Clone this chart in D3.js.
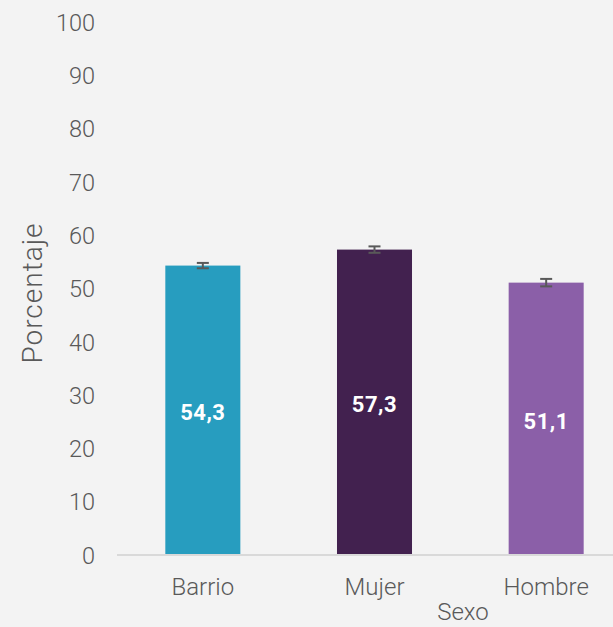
<!DOCTYPE html>
<html><head><meta charset="utf-8">
<script src="https://cdn.jsdelivr.net/npm/d3@7"></script>
<style>html,body{margin:0;padding:0;background:#f3f3f3;}</style>
</head><body>
<script>
const categories = ["Barrio", "Mujer", "Hombre"];
const values = [54.3, 57.3, 51.1];
const errors = [0.5, 0.6, 0.7];
const labels = ["54,3", "57,3", "51,1"];
const colors = ["#279dbf", "#42214f", "#8b5fa8"];
const yTicks = [0,10,20,30,40,50,60,70,80,90,100];

const W = 613, H = 627;
const FONT = "Roboto, 'Noto Sans', sans-serif";
const svg = d3.select("body").append("svg").attr("width", W).attr("height", H)
  .style("background", "#f3f3f3").style("font-family", FONT);

const y = d3.scaleLinear().domain([0, 100]).range([555, 22]);
const x = d3.scaleBand().domain(categories).range([117, 632]).paddingInner(0.563).paddingOuter(0.2815);

// y axis labels
const yAxis = d3.axisLeft(y).tickValues(yTicks).tickSize(0).tickPadding(0);
const gy = svg.append("g").attr("transform", "translate(95,0)").call(yAxis);
gy.select(".domain").remove();
gy.selectAll("text").attr("fill", "#595959").style("font-size", "23.5px").style("font-family", FONT).style("font-weight", 300).attr("dy", "0.35em").attr("x", 0);

// bars
svg.selectAll("rect.bar").data(categories).join("rect").attr("class", "bar")
  .attr("x", d => x(d)).attr("width", x.bandwidth())
  .attr("y", (d, i) => y(values[i])).attr("height", (d, i) => y(0) - y(values[i]))
  .attr("fill", (d, i) => colors[i]);

// x axis
const xAxis = d3.axisBottom(x).tickSize(0).tickPadding(23);
const gx = svg.append("g").attr("transform", `translate(0,${y(0)})`).call(xAxis);
gx.select(".domain").attr("stroke", "#d9d9d9").attr("stroke-width", 2).attr("d", "M117,0H613");
gx.selectAll("text").attr("fill", "#595959").style("font-size", "24px").style("font-family", FONT).style("font-weight", 300);

// error bars
const eb = svg.append("g").attr("stroke", "#595959").attr("stroke-width", 2);
categories.forEach((c, i) => {
  const cx = x(c) + x.bandwidth() / 2;
  const y1 = y(values[i] + errors[i]), y2 = y(values[i] - errors[i]);
  eb.append("line").attr("x1", cx).attr("x2", cx).attr("y1", y1).attr("y2", y2);
  eb.append("line").attr("x1", cx - 6).attr("x2", cx + 6).attr("y1", y1).attr("y2", y1);
  eb.append("line").attr("x1", cx - 6).attr("x2", cx + 6).attr("y1", y2).attr("y2", y2);
});

// value labels
svg.selectAll("text.val").data(categories).join("text").attr("class", "val")
  .attr("x", d => x(d) + x.bandwidth() / 2)
  .attr("y", (d, i) => (y(values[i]) + y(0)) / 2 + 2)
  .attr("dy", "0.35em").attr("text-anchor", "middle")
  .attr("fill", "#ffffff").style("font-weight", "bold").style("font-size", "22px")
  .style("letter-spacing", "0.5px")
  .text((d, i) => labels[i]);

// axis titles
svg.append("text").attr("transform", "translate(42,293) rotate(-90)")
  .attr("text-anchor", "middle").attr("fill", "#595959").style("font-size", "28px")
  .style("font-weight", 300).style("letter-spacing", "1px").text("Porcentaje");
svg.append("text").attr("x", 463).attr("y", 620).attr("text-anchor", "middle")
  .attr("fill", "#595959").style("font-size", "24px").style("font-weight", 300).text("Sexo");
</script>
</body></html>
